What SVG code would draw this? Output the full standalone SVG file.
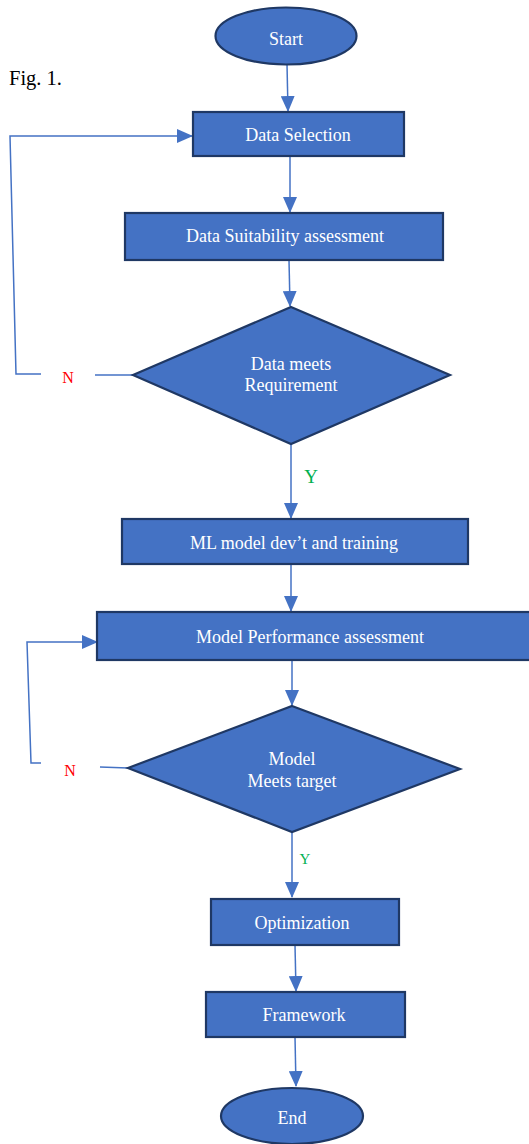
<svg xmlns="http://www.w3.org/2000/svg" width="529" height="1144" viewBox="0 0 529 1144">
<style>
text{font-family:'Liberation Serif','Times New Roman',Times,'DejaVu Serif',serif}
.node{fill:#4472C4;stroke:#1F3864;stroke-width:2.2}
.lbl{font-size:18px;fill:#ffffff;text-anchor:middle}
.con{fill:none;stroke:#4472C4;stroke-width:1.5}
.n{font-size:16px;fill:#FF0000;text-anchor:middle}
.y{fill:#00B050;text-anchor:middle}
</style>
<defs>
<marker id="ahb" markerWidth="16" markerHeight="14" refX="15" refY="7" orient="auto" markerUnits="userSpaceOnUse" viewBox="0 0 16 14">
<path d="M0,0 L16,7 L0,14 Z" fill="#4472C4"/>
</marker>
</defs>
<text x="9" y="85" font-size="20.5" fill="#000">Fig. 1.</text>
<g id="connectors">
<path class="con" d="M287,64 L288,111" marker-end="url(#ahb)"/>
<path class="con" d="M290,156 L290,212" marker-end="url(#ahb)"/>
<path class="con" d="M289,260 L290,306" marker-end="url(#ahb)"/>
<path class="con" d="M133,375 L95,375"/>
<path class="con" d="M41,374 L16,374 L10,136 L192,136" marker-end="url(#ahb)"/>
<path class="con" d="M291,444 L291,518" marker-end="url(#ahb)"/>
<path class="con" d="M291,564 L291,611" marker-end="url(#ahb)"/>
<path class="con" d="M292,660 L292,705" marker-end="url(#ahb)"/>
<path class="con" d="M128,768 L100,767"/>
<path class="con" stroke-width="2" d="M41,763 L31,763 L27,642 L97,642" marker-end="url(#ahb)"/>
<path class="con" stroke-width="2" d="M292,832 L292,897" marker-end="url(#ahb)"/>
<path class="con" d="M295,945 L296,991" marker-end="url(#ahb)"/>
<path class="con" stroke-width="3" d="M295,1037 L296,1086" marker-end="url(#ahb)"/>
</g>
<text class="n" x="68" y="383">N</text>
<text class="n" x="70" y="776">N</text>
<text class="y" x="311" y="483" font-size="19">Y</text>
<text class="y" x="305" y="864" font-size="15">Y</text>
<g id="start"><ellipse class="node" cx="286" cy="36" rx="70.5" ry="28.5"/><text class="lbl" x="286" y="45">Start</text></g>
<g id="data-selection"><rect class="node" x="193" y="112" width="211" height="44"/><text class="lbl" x="298" y="141">Data Selection</text></g>
<g id="data-suitability"><rect class="node" x="125" y="213" width="318" height="47"/><text class="lbl" x="285" y="242">Data Suitability assessment</text></g>
<g id="data-meets"><polygon class="node" points="291,307 450,375 291,444 133,375"/><text class="lbl" x="291" y="370">Data meets</text><text class="lbl" x="291" y="391">Requirement</text></g>
<g id="ml-model"><rect class="node" x="122" y="519" width="346" height="45"/><text class="lbl" x="294" y="549">ML model dev’t and training</text></g>
<g id="model-performance"><rect class="node" x="97" y="612" width="440" height="48"/><text class="lbl" x="310" y="643">Model Performance assessment</text></g>
<g id="model-meets"><polygon class="node" points="292,706 460,769 292,832 128,768"/><text class="lbl" x="292" y="765">Model</text><text class="lbl" x="292" y="787">Meets target</text></g>
<g id="optimization"><rect class="node" x="211" y="899" width="188" height="46"/><text class="lbl" x="302" y="929">Optimization</text></g>
<g id="framework"><rect class="node" x="206" y="992" width="199" height="45"/><text class="lbl" x="304" y="1021">Framework</text></g>
<g id="end"><ellipse class="node" cx="292" cy="1116" rx="71" ry="28"/><text class="lbl" x="292" y="1124">End</text></g>
</svg>
